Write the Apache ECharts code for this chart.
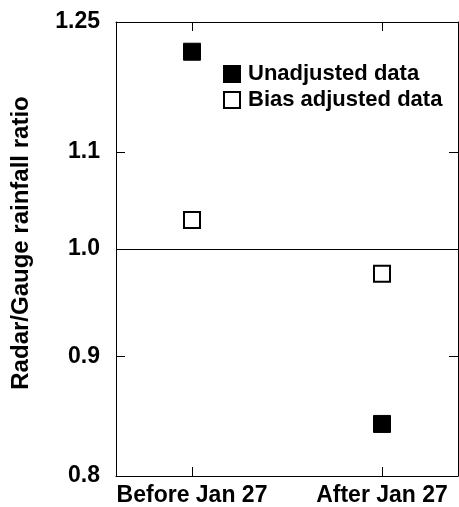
<!DOCTYPE html>
<html>
<head>
<meta charset="utf-8">
<script src="https://cdn.jsdelivr.net/npm/echarts@6/dist/echarts.min.js"></script>
<style>
  html, body { margin: 0; padding: 0; background: #fff; }
  #main { width: 459px; height: 507px; }
</style>
</head>
<body>
<div id="main"></div>
<script>
// categories and values (ratio, plotted on a log scale)
var categories = ['Before Jan 27', 'After Jan 27'];
var unadjusted = [1.214, 0.842];
var biasAdjusted = [1.029, 0.976];
var yTickLabels = ['0.8', '0.9', '1.0', '1.1', '1.25'];
var yTickValues = [0.8, 0.9, 1.0, 1.1, 1.25];
var yMinorTicks = [0.9, 1.1];

var ln = Math.log;
var font = 'Liberation Sans';

function pairs(vals) {
  return vals.map(function (v, i) { return [i, ln(v)]; });
}
function yLabel(v) {
  var best = 0;
  for (var i = 1; i < yTickValues.length; i++) {
    if (Math.abs(ln(yTickValues[i]) - v) < Math.abs(ln(yTickValues[best]) - v)) best = i;
  }
  return yTickLabels[best];
}

var myChart = echarts.init(document.getElementById('main'));
var xBase = {
  type: 'value', min: -0.4, max: 1.4,
  splitLine: { show: false },
  axisLine: { show: true, onZero: false, lineStyle: { color: '#000', width: 1 } },
  axisTick: { show: true, inside: true, length: 9, customValues: [0, 1], lineStyle: { color: '#000' } }
};
var yBase = {
  type: 'value', min: ln(0.8), max: ln(1.25),
  splitLine: { show: false },
  axisLine: { show: true, onZero: false, lineStyle: { color: '#000', width: 1 } },
  axisTick: { show: true, inside: true, length: 9, customValues: yMinorTicks.map(ln), lineStyle: { color: '#000' } }
};

var option = {
  animation: false,
  backgroundColor: '#fff',
  grid: { left: 116, right: 1, top: 22, bottom: 29 },
  legend: {
    orient: 'vertical',
    left: 218, top: 58,
    itemWidth: 16, itemHeight: 16, itemGap: 4,
    textStyle: { fontFamily: font, fontWeight: 'bold', fontSize: 22, color: '#000', padding: [0, 0, 0, 3] },
    data: [
      { name: 'Unadjusted data', icon: 'rect' },
      { name: 'Bias adjusted data', icon: 'rect' }
    ]
  },
  xAxis: [
    Object.assign({}, xBase, {
      position: 'bottom',
      axisLabel: {
        customValues: [0, 1], margin: 8,
        fontFamily: font, fontWeight: 'bold', fontSize: 23, color: '#000',
        formatter: function (v) { return categories[Math.round(v)]; }
      }
    }),
    Object.assign({}, xBase, { position: 'top', axisLabel: { show: false } })
  ],
  yAxis: [
    Object.assign({}, yBase, {
      position: 'left',
      name: 'Radar/Gauge rainfall ratio',
      nameLocation: 'middle', nameGap: 83, nameRotate: 90,
      nameTextStyle: { fontFamily: font, fontWeight: 'bold', fontSize: 24, color: '#000', padding: [0, 0, 0, 12] },
      axisLabel: {
        customValues: yTickValues.map(ln), margin: 16,
        fontFamily: font, fontWeight: 'bold', fontSize: 23, color: '#000',
        formatter: yLabel
      }
    }),
    Object.assign({}, yBase, { position: 'right', axisLabel: { show: false } })
  ],
  series: [
    {
      name: 'Unadjusted data', type: 'scatter',
      symbol: 'rect', symbolSize: 17,
      itemStyle: { color: '#000', borderColor: '#000', borderWidth: 1, opacity: 1 },
      data: pairs(unadjusted),
      markLine: {
        silent: true, symbol: 'none', label: { show: false },
        lineStyle: { color: '#000', width: 1, type: 'solid' },
        data: [{ yAxis: ln(1.0) }]
      }
    },
    {
      name: 'Bias adjusted data', type: 'scatter',
      symbol: 'rect', symbolSize: 16,
      itemStyle: { color: '#fff', borderColor: '#000', borderWidth: 2, opacity: 1 },
      data: pairs(biasAdjusted)
    }
  ]
};
myChart.setOption(option);
</script>
</body>
</html>
